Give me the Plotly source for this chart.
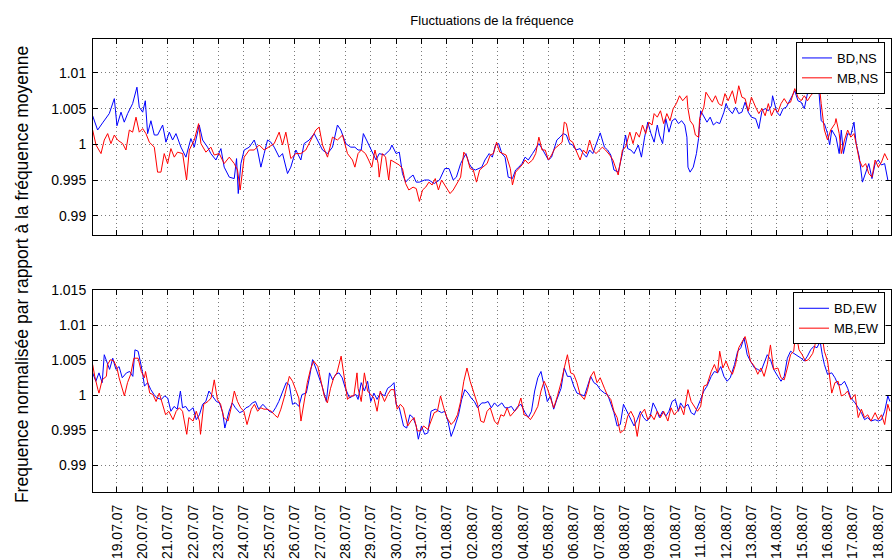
import pandas as pd
import plotly.graph_objects as go

# ---------------- data (hours since 18.07.07 00:00, normalised frequency) ----------------
START = "2007-07-18"

ns_bd_h = [1.0, 5.7, 10.4, 16.7, 21.5, 24.0, 27.8, 30.9, 34.1, 38.8, 42.9, 45.1, 48.3, 50.8, 53.0, 56.1, 59.3, 62.4, 67.2, 70.3,
           73.5, 76.6, 79.8, 84.5, 89.2, 93.9, 97.1, 101.8, 105.0, 109.7, 112.8, 117.6, 122.3, 125.4, 130.2, 134.9, 137.1, 138.7, 141.2, 144.3,
           149.1, 153.8, 156.9, 160.1, 163.2, 166.4, 169.5, 172.7, 177.4, 180.6, 185.3, 188.4, 193.2, 197.9, 201.0, 205.8, 210.5, 215.2, 218.4, 223.1,
           227.8, 232.5, 235.7, 240.4, 245.1,
           249, 252, 255, 257, 260, 263, 266, 269, 272, 277, 282, 284, 288, 291, 294, 297, 300, 304, 307, 310,
           315, 319, 324, 329, 334, 338, 342, 345, 349, 354, 357, 360, 363, 366, 369, 372, 376, 379, 382, 385,
           388, 391, 394, 398, 401, 404, 407, 410, 413, 417, 420, 423, 426, 429, 432, 435, 440, 443, 446, 449,
           452, 455, 458, 462, 465, 468, 471, 474, 477, 481, 485, 488, 491, 494, 498,
           502, 505, 507, 510, 513, 517, 520, 523, 526, 529, 532, 535, 537, 540, 543, 546, 549, 552, 555, 558,
           561, 563, 564, 566, 569, 572, 574, 576, 579, 582, 585, 588, 591, 594, 598, 600, 602, 606, 609, 612,
           615, 618, 621, 624, 628, 631, 634, 637, 640, 643, 644, 648, 651, 654, 657, 660, 663, 665, 668, 671,
           674, 677, 680, 683, 686, 688, 690, 693, 696, 698, 700, 704, 707, 709, 711, 715, 718, 721, 723, 726,
           729, 732, 735, 738, 741, 744, 747, 750, 753]
ns_bd_v = [1.0040, 1.0020, 1.0030, 1.0043, 1.0064, 1.0026, 1.0045, 1.0031, 1.0043, 1.0057, 1.0080, 1.0052, 1.0045, 1.0061, 1.0015, 1.0033, 1.0013, 1.0013, 1.0027, 1.0003,
           1.0017, 1.0006, 1.0015, 0.9996, 0.9982, 1.0008, 0.9996, 1.0027, 1.0006, 0.9996, 0.9987, 0.9978, 0.9994, 0.9968, 0.9954, 0.9952, 0.9980, 0.9931, 0.9973, 0.9992,
           0.9996, 1.0006, 0.9992, 0.9968, 0.9987, 1.0006, 1.0003, 0.9996, 0.9982, 0.9987, 0.9959, 0.9968, 0.9992, 0.9978, 1.0001, 1.0006, 1.0015, 1.0001, 0.9992, 0.9987,
           0.9996, 1.0027, 1.0020, 1.0001, 0.9996,
           0.9996, 0.9992, 0.9992, 1.0015, 1.0006, 0.9996, 0.9987, 0.9978, 0.9987, 0.9985, 0.9992, 0.9999, 0.9987, 0.9989, 0.9959, 0.9947, 0.9952, 0.9957, 0.9947, 0.9947,
           0.9950, 0.9950, 0.9945, 0.9950, 0.9966, 0.9966, 0.9950, 0.9954, 0.9973, 0.9987, 0.9973, 0.9966, 0.9964, 0.9966, 0.9968, 0.9978, 0.9987, 0.9982, 0.9999, 1.0001,
           0.9987, 0.9982, 0.9954, 0.9952, 0.9964, 0.9968, 0.9973, 0.9982, 0.9978, 0.9987, 0.9994, 1.0001, 0.9994, 0.9985, 0.9978, 0.9982, 1.0006, 1.0010, 1.0015, 1.0013,
           1.0001, 0.9999, 0.9992, 0.9994, 0.9987, 0.9982, 0.9992, 0.9987, 0.9999, 1.0016, 0.9996, 0.9992, 0.9985, 0.9964, 0.9961,
           0.9987, 1.0013, 0.9994, 0.9992, 0.9987, 0.9999, 0.9982, 1.0010, 1.0031, 1.0015, 1.0003, 1.0027, 1.0013, 1.0001, 1.0036, 1.0017, 1.0033, 1.0036, 1.0029, 1.0033,
           1.0027, 1.0010, 0.9968, 0.9961, 0.9968, 0.9987, 1.0008, 1.0047, 1.0038, 1.0031, 1.0038, 1.0027, 1.0031, 1.0029, 1.0045, 1.0057, 1.0050, 1.0043, 1.0052, 1.0043,
           1.0045, 1.0059, 1.0045, 1.0038, 1.0036, 1.0022, 1.0047, 1.0050, 1.0047, 1.0054, 1.0068, 1.0045, 1.0040, 1.0050, 1.0052, 1.0061, 1.0071, 1.0075, 1.0061, 1.0059,
           1.0050, 1.0071, 1.0080, 1.0075, 1.0089, 1.0071, 1.0033, 1.0029, 1.0015, 0.9999, 1.0020, 1.0010, 0.9987, 1.0020, 0.9987, 1.0015, 1.0013, 1.0031, 1.0001, 0.9982,
           0.9947, 0.9959, 0.9973, 0.9952, 0.9973, 0.9978, 0.9971, 0.9973, 0.9950]

ns_mb_h = [1.0, 4.2, 8.9, 12.0, 15.2, 18.3, 21.5, 24.6, 29.4, 32.5, 35.7, 38.8, 42.0, 45.1, 48.3, 51.4, 54.6, 59.3, 62.4, 65.6,
           68.7, 71.9, 75.0, 78.2, 81.3, 86.1, 89.8, 92.4, 97.1, 101.2, 103.4, 108.1, 112.8, 116.0, 120.7, 125.4, 130.2, 134.9, 138.0, 140.5,
           144.3, 149.1, 153.8, 158.5, 163.2, 168.0, 172.7, 177.4, 180.6, 183.7, 188.4, 193.2, 197.9, 202.6, 207.3, 212.1, 215.2, 218.4, 223.1, 227.8,
           232.5, 237.3, 242.0, 246.7,
           249, 252, 255, 259, 262, 265, 268, 271, 272, 275, 278, 281, 283, 288, 291, 294, 297, 300, 304, 307,
           310, 313, 316, 319, 322, 325, 328, 331, 335, 339, 342, 345, 349, 352, 355, 358, 361, 364, 367, 370,
           374, 377, 380, 383, 386, 389, 392, 396, 398, 401, 404, 407, 410, 413, 417, 420, 423, 426, 429, 432,
           435, 438, 442, 445, 447, 449, 452, 455, 458, 462, 465, 468, 471, 474, 477, 480, 483, 486, 490, 493,
           496, 498,
           502, 505, 509, 512, 515, 518, 521, 524, 527, 530, 532, 535, 538, 541, 544, 547, 550, 553, 556, 559,
           563, 564, 566, 569, 571, 574, 575, 579, 581, 584, 587, 590, 593, 596, 599, 602, 606, 609, 612, 615,
           618, 621, 624, 628, 631, 634, 637, 640, 643, 646, 649, 652, 655, 658, 661, 665, 668, 671, 674, 677,
           680, 683, 686, 688, 690, 693, 696, 699, 703, 704, 707, 709, 712, 715, 718, 721, 723, 726, 729, 732,
           735, 738, 741, 744, 747, 750, 753]
ns_mb_v = [1.0020, 0.9999, 0.9987, 1.0006, 1.0015, 1.0001, 1.0013, 1.0006, 1.0001, 0.9992, 1.0020, 1.0017, 1.0038, 1.0017, 1.0022, 1.0015, 1.0003, 0.9996, 0.9961, 0.9961,
           0.9987, 0.9973, 0.9994, 0.9982, 0.9989, 0.9987, 0.9950, 0.9992, 1.0006, 1.0029, 1.0001, 0.9989, 0.9996, 0.9985, 0.9987, 0.9973, 0.9982, 0.9973, 0.9964, 0.9936,
           0.9982, 0.9992, 0.9992, 0.9999, 0.9992, 0.9996, 1.0001, 1.0017, 0.9999, 1.0017, 0.9980, 0.9987, 0.9987, 0.9992, 1.0006, 1.0020, 1.0024, 0.9999, 0.9982, 1.0010,
           1.0006, 1.0013, 0.9987, 0.9978,
           0.9968, 0.9987, 0.9992, 0.9987, 0.9978, 0.9968, 0.9992, 0.9973, 0.9954, 0.9987, 0.9982, 0.9950, 0.9978, 0.9973, 0.9971, 0.9966, 0.9945, 0.9936, 0.9940, 0.9938,
           0.9920, 0.9936, 0.9940, 0.9947, 0.9943, 0.9952, 0.9936, 0.9950, 0.9940, 0.9931, 0.9936, 0.9943, 0.9954, 0.9989, 0.9982, 0.9966, 0.9964, 0.9947, 0.9964, 0.9968,
           0.9973, 0.9985, 0.9987, 1.0003, 0.9989, 0.9987, 0.9985, 0.9966, 0.9943, 0.9961, 0.9966, 0.9971, 0.9978, 0.9973, 0.9978, 0.9987, 1.0010, 0.9992, 0.9992, 0.9978,
           0.9985, 0.9994, 0.9999, 1.0003, 1.0031, 1.0029, 1.0006, 1.0003, 0.9992, 0.9978, 0.9992, 0.9987, 1.0006, 0.9992, 0.9987, 0.9992, 0.9996, 0.9992, 0.9985, 0.9978,
           0.9964, 0.9957,
           0.9992, 0.9996, 1.0017, 1.0001, 1.0017, 1.0010, 1.0027, 1.0015, 1.0031, 1.0027, 1.0043, 1.0038, 1.0047, 1.0029, 1.0043, 1.0033, 1.0050, 1.0057, 1.0068, 1.0061,
           1.0068, 1.0050, 1.0033, 1.0027, 1.0013, 1.0010, 1.0036, 1.0052, 1.0073, 1.0066, 1.0059, 1.0068, 1.0057, 1.0054, 1.0071, 1.0061, 1.0075, 1.0057, 1.0082, 1.0066,
           1.0064, 1.0047, 1.0066, 1.0052, 1.0043, 1.0050, 1.0040, 1.0057, 1.0040, 1.0050, 1.0045, 1.0057, 1.0064, 1.0057, 1.0059, 1.0078, 1.0066, 1.0061, 1.0068, 1.0061,
           1.0068, 1.0073, 1.0080, 1.0085, 1.0057, 1.0020, 1.0006, 1.0020, 1.0029, 1.0036, 1.0015, 0.9987, 1.0006, 1.0020, 1.0010, 1.0015, 1.0001, 0.9978, 0.9968, 0.9973,
           0.9959, 0.9954, 0.9978, 0.9968, 0.9975, 0.9987, 0.9978]

ew_bd_h = [1, 4, 7, 10, 12, 15, 17, 20, 23, 26, 29, 33, 36, 39, 41, 44, 48, 50, 53, 56,
           59, 62, 66, 69, 72, 75, 78, 81, 84, 86, 89, 92, 96, 99, 102, 105, 108, 111, 114, 118,
           121, 124, 126, 130, 133, 136, 140, 143, 146, 149, 152, 155, 158, 162, 165, 168, 171, 174, 177, 181,
           184, 187, 190, 193, 196, 199, 203, 206, 209, 212, 215, 218, 222, 225, 228, 231, 234, 237, 240, 244,
           247, 250,
           252, 255, 258, 261, 264, 267, 270, 273, 277, 280, 283, 286, 288, 291, 295, 298, 301, 304, 307, 309,
           312, 315, 318, 321, 325, 328, 331, 334, 337, 340, 343, 347, 350, 353, 356, 359, 362, 365, 369, 372,
           375, 378, 381, 384, 388, 391, 394, 397, 400, 403, 406, 410, 413, 416, 419, 422, 425, 428, 431, 434,
           437, 440, 444, 447, 450, 453, 456, 459, 462, 466, 469, 472, 475, 478, 481, 485, 488, 491, 494, 497,
           500,
           503, 506, 509, 513, 516, 519, 522, 525, 528, 531, 534, 537, 540, 543, 546, 549, 552, 555, 557, 560,
           564, 567, 570, 573, 576, 579, 582, 586, 589, 592, 595, 598, 601, 604, 608, 611, 614, 617, 620, 623,
           627, 630, 633, 636, 639, 642, 645, 649, 652, 655, 658, 661, 664, 667, 671, 674, 677, 680, 683, 686,
           689, 691, 693, 696, 700, 703, 706, 709, 712, 715, 718, 722, 725, 728, 731, 734, 737, 741, 744, 747,
           750, 753, 755]
ew_bd_v = [1.0032, 1.0020, 1.0032, 1.0018, 1.0058, 1.0044, 1.0037, 1.0053, 1.0037, 1.0041, 1.0025, 1.0032, 1.0034, 1.0027, 1.0065, 1.0063, 1.0034, 1.0013, 1.0018, 1.0008,
           1.0001, 0.9996, 0.9994, 0.9999, 0.9996, 0.9977, 0.9984, 0.9980, 1.0006, 0.9982, 0.9984, 0.9977, 0.9982, 0.9965, 0.9972, 0.9987, 0.9991, 1.0006, 0.9999, 0.9991,
           0.9989, 0.9975, 0.9953, 0.9977, 0.9989, 0.9982, 0.9975, 0.9977, 0.9982, 0.9984, 0.9989, 0.9991, 0.9980, 0.9987, 0.9982, 0.9977, 0.9975, 0.9982, 0.9991, 1.0008,
           1.0018, 1.0015, 0.9987, 0.9989, 0.9984, 1.0001, 1.0003, 1.0025, 1.0051, 1.0039, 1.0027, 1.0013, 0.9991, 1.0032, 1.0022, 1.0030, 1.0032, 1.0025, 1.0010, 0.9996,
           0.9999, 1.0001,
           0.9994, 1.0018, 1.0006, 1.0020, 0.9991, 1.0003, 0.9994, 1.0003, 0.9999, 1.0010, 1.0013, 1.0018, 0.9987, 0.9982, 0.9956, 0.9953, 0.9972, 0.9968, 0.9956, 0.9937,
           0.9956, 0.9944, 0.9946, 0.9977, 0.9980, 0.9977, 0.9975, 0.9977, 0.9963, 0.9941, 0.9953, 0.9972, 0.9994, 1.0008, 1.0003, 0.9996, 0.9991, 0.9982, 0.9989, 0.9989,
           0.9991, 0.9982, 0.9989, 0.9984, 0.9989, 0.9982, 0.9982, 0.9984, 0.9977, 0.9984, 0.9987, 0.9975, 0.9968, 0.9977, 1.0006, 1.0025, 1.0034, 1.0013, 0.9991, 0.9999,
           0.9980, 0.9994, 1.0010, 1.0039, 1.0027, 1.0027, 1.0013, 1.0003, 1.0001, 0.9999, 1.0013, 1.0027, 1.0018, 1.0015, 1.0008, 1.0003, 1.0001, 0.9987, 0.9975, 0.9956,
           0.9958,
           0.9987, 0.9977, 0.9968, 0.9956, 0.9965, 0.9977, 0.9968, 0.9963, 0.9968, 0.9989, 0.9980, 0.9968, 0.9977, 0.9970, 0.9977, 0.9991, 0.9994, 0.9977, 0.9989, 0.9982,
           0.9987, 0.9975, 0.9972, 0.9982, 0.9994, 1.0006, 1.0013, 1.0027, 1.0034, 1.0032, 1.0041, 1.0027, 1.0020, 1.0025, 1.0044, 1.0063, 1.0068, 1.0082, 1.0058, 1.0049,
           1.0039, 1.0037, 1.0034, 1.0046, 1.0058, 1.0051, 1.0037, 1.0027, 1.0020, 1.0027, 1.0053, 1.0063, 1.0060, 1.0058, 1.0053, 1.0049, 1.0056, 1.0065, 1.0070, 1.0068,
           1.0077, 1.0058, 1.0044, 1.0030, 1.0032, 1.0025, 1.0015, 1.0015, 1.0020, 1.0010, 0.9996, 0.9989, 0.9982, 0.9975, 0.9965, 0.9968, 0.9963, 0.9965, 0.9963, 0.9965,
           0.9977, 0.9999, 0.9991]

ew_mb_h = [1, 3, 6, 7, 10, 14, 15, 18, 21, 24, 26, 31, 34, 37, 40, 44, 47, 50, 51, 55,
           58, 61, 64, 67, 70, 73, 77, 80, 83, 86, 90, 92, 96, 99, 102, 103, 106, 110, 113, 116,
           119, 122, 125, 129, 132, 135, 138, 141, 144, 147, 151, 154, 157, 160, 163, 166, 170, 173, 176, 179,
           182, 187, 190, 193, 196, 198, 201, 204, 207, 210, 214, 217, 220, 223, 226, 229, 232, 236, 239, 242,
           245, 248, 251,
           252, 255, 258, 261, 264, 267, 270, 273, 277, 280, 283, 286, 289, 292, 295, 299, 302, 305, 308, 311,
           314, 318, 321, 324, 327, 330, 333, 336, 340, 343, 346, 349, 352, 355, 358, 362, 365, 368, 371, 374,
           377, 381, 384, 387, 390, 393, 396, 400, 403, 406, 409, 412, 415, 418, 422, 425, 428, 431, 434, 437,
           440, 444, 447, 450, 453, 456, 459, 462, 466, 469, 472, 475, 478, 481, 485, 488, 491, 494, 497, 500,
           504, 507, 510, 513, 516, 519, 523, 526, 529, 532, 535, 538, 541, 545, 548, 551, 554, 557, 560, 564,
           567, 570, 573, 576, 579, 582, 586, 589, 592, 594, 597, 600, 603, 606, 609, 612, 615, 618, 620, 623,
           627, 630, 633, 636, 639, 642, 645, 649, 652, 655, 658, 661, 664, 666, 669, 672, 675, 678, 682, 685,
           688, 691, 693, 696, 700, 703, 706, 709, 712, 715, 718, 722, 725, 728, 731, 734, 737, 741, 744, 747,
           750, 753, 755]
ew_mb_v = [1.0044, 1.0027, 1.0008, 1.0003, 1.0022, 1.0027, 1.0044, 1.0051, 1.0049, 1.0039, 1.0025, 0.9999, 1.0018, 1.0030, 1.0053, 1.0053, 1.0034, 1.0025, 1.0034, 1.0003,
           1.0001, 0.9991, 1.0003, 0.9989, 0.9972, 0.9977, 0.9965, 0.9977, 0.9982, 0.9977, 0.9944, 0.9968, 0.9963, 0.9977, 0.9963, 0.9944, 0.9987, 0.9991, 0.9996, 1.0022,
           0.9994, 0.9987, 0.9968, 0.9963, 0.9982, 1.0006, 0.9991, 0.9982, 0.9977, 0.9958, 0.9980, 0.9987, 0.9977, 0.9982, 0.9980, 0.9980, 0.9977, 0.9972, 0.9968, 0.9980,
           0.9996, 1.0027, 1.0020, 1.0008, 0.9996, 0.9963, 0.9994, 1.0018, 1.0037, 1.0049, 1.0041, 1.0020, 0.9999, 0.9989, 1.0010, 1.0025, 1.0032, 1.0056, 1.0027, 0.9994,
           0.9999, 0.9999, 1.0032,
           1.0010, 0.9991, 1.0032, 1.0006, 1.0001, 0.9996, 0.9977, 1.0006, 0.9991, 1.0001, 1.0008, 1.0008, 0.9980, 0.9987, 0.9982, 0.9956, 0.9963, 0.9968, 0.9949, 0.9949,
           0.9956, 0.9951, 0.9963, 0.9975, 0.9977, 0.9999, 0.9982, 0.9968, 0.9958, 0.9963, 0.9972, 0.9991, 1.0020, 1.0039, 1.0020, 1.0001, 0.9987, 0.9963, 0.9961, 0.9977,
           0.9982, 0.9963, 0.9958, 0.9972, 0.9970, 0.9982, 0.9970, 0.9977, 0.9982, 0.9996, 0.9972, 0.9970, 0.9965, 0.9972, 0.9984, 1.0006, 1.0020, 1.0010, 0.9996, 0.9982,
           0.9996, 1.0018, 1.0039, 1.0058, 1.0032, 1.0030, 1.0018, 1.0001, 0.9994, 1.0008, 1.0027, 1.0034, 1.0018, 1.0025, 1.0010, 0.9999, 0.9994, 0.9977, 0.9968, 0.9946,
           0.9951, 0.9970, 0.9977, 0.9968, 0.9941, 0.9972, 0.9980, 0.9965, 0.9972, 0.9965, 0.9977, 0.9968, 0.9977, 0.9963, 0.9982, 0.9972, 0.9977, 0.9984, 0.9972, 1.0008,
           0.9991, 0.9984, 0.9977, 0.9984, 1.0013, 1.0015, 1.0034, 1.0044, 1.0032, 1.0063, 1.0039, 1.0049, 1.0037, 1.0030, 1.0044, 1.0068, 1.0077, 1.0084, 1.0072, 1.0049,
           1.0041, 1.0030, 1.0039, 1.0027, 1.0044, 1.0072, 1.0037, 1.0039, 1.0025, 1.0022, 1.0039, 1.0058, 1.0063, 1.0091, 1.0065, 1.0058, 1.0049, 1.0051, 1.0060, 1.0077,
           1.0087, 1.0084, 1.0063, 1.0049, 1.0003, 1.0018, 1.0020, 0.9999, 1.0001, 1.0006, 0.9994, 1.0001, 0.9968, 0.9980, 0.9968, 0.9972, 0.9963, 0.9975, 0.9965, 0.9972,
           0.9958, 0.9987, 0.9977]

tick_days = pd.date_range("2007-07-19", "2007-08-18", freq="D")
x_range = ["2007-07-18 01:20", "2007-08-18 12:00"]
ns_yticks = [0.99, 0.995, 1.0, 1.005, 1.01]
ns_yticktext = ["0.99", "0.995", "1", "1.005", "1.01"]
ew_yticks = [0.99, 0.995, 1.0, 1.005, 1.01, 1.015]
ew_yticktext = ["0.99", "0.995", "1", "1.005", "1.01", "1.015"]
ns_yrange = [0.9873, 1.01475]
ew_yrange = [0.98614, 1.0151]


def to_time(hours):
    return pd.Timestamp(START) + pd.to_timedelta(hours, unit="h")


FONT = "Liberation Sans, Arial, sans-serif"
BLUE = "#0000ff"
RED = "#ff0000"
GRID = "#7a7a7a"

fig = go.Figure()
fig.add_trace(go.Scatter(x=to_time(ns_bd_h), y=ns_bd_v, mode="lines", name="BD,NS",
                         line=dict(color=BLUE, width=1), xaxis="x", yaxis="y", legend="legend"))
fig.add_trace(go.Scatter(x=to_time(ns_mb_h), y=ns_mb_v, mode="lines", name="MB,NS",
                         line=dict(color=RED, width=1), xaxis="x", yaxis="y", legend="legend"))
fig.add_trace(go.Scatter(x=to_time(ew_bd_h), y=ew_bd_v, mode="lines", name="BD,EW",
                         line=dict(color=BLUE, width=1), xaxis="x2", yaxis="y2", legend="legend2"))
fig.add_trace(go.Scatter(x=to_time(ew_mb_h), y=ew_mb_v, mode="lines", name="MB,EW",
                         line=dict(color=RED, width=1), xaxis="x2", yaxis="y2", legend="legend2"))

common_x = dict(type="date", range=x_range, tickmode="array", tickvals=list(tick_days),
                ticktext=[d.strftime("%d.%m.%y") for d in tick_days],
                showline=True, linecolor="black", linewidth=1, mirror="ticks",
                ticks="inside", ticklen=5, tickcolor="black", tickwidth=1,
                showgrid=True, gridcolor=GRID, griddash="1px,3px", gridwidth=1,
                zeroline=False, tickfont=dict(family=FONT, size=14, color="black"))
common_y = dict(showline=True, linecolor="black", linewidth=1, mirror="ticks",
                ticks="inside", ticklen=5, tickcolor="black", tickwidth=1,
                showgrid=True, gridcolor=GRID, griddash="1px,3px", gridwidth=1,
                zeroline=False, tickfont=dict(family=FONT, size=14, color="black"),
                ticklabelstandoff=3)

top_dom = [0.5674, 1.0]
bot_dom = [0.0, 0.4464]

fig.update_layout(
    width=893, height=560,
    margin=dict(l=93, r=1, t=39, b=64),
    paper_bgcolor="white", plot_bgcolor="white",
    font=dict(family=FONT, size=14, color="black"),
    showlegend=True,
    title=dict(text="Fluctuations de la fréquence", x=0.5, xref="paper", xanchor="center",
               y=1 - 20 / 560, yref="container", yanchor="middle",
               font=dict(family=FONT, size=13, color="black")),
    xaxis=dict(common_x, domain=[0, 1], anchor="y", showticklabels=False),
    yaxis=dict(common_y, domain=top_dom, anchor="x", range=ns_yrange,
               tickmode="array", tickvals=ns_yticks, ticktext=ns_yticktext),
    xaxis2=dict(common_x, domain=[0, 1], anchor="y2", tickangle=-90, ticklabelstandoff=6),
    yaxis2=dict(common_y, domain=bot_dom, anchor="x2", range=ew_yrange,
                tickmode="array", tickvals=ew_yticks, ticktext=ew_yticktext),
    legend=dict(x=0.9925, y=0.9934, xanchor="right", yanchor="top", xref="paper", yref="paper",
                bgcolor="white", bordercolor="black", borderwidth=1,
                font=dict(family=FONT, size=13, color="black"), itemwidth=30,
                tracegroupgap=0),
    legend2=dict(x=0.9925, y=0.4408, xanchor="right", yanchor="top", xref="paper", yref="paper",
                 bgcolor="white", bordercolor="black", borderwidth=1,
                 font=dict(family=FONT, size=13, color="black"), itemwidth=30,
                 tracegroupgap=0),
    annotations=[dict(text="Frequence normalisée par rapport à la fréquence moyenne",
                      textangle=-90, x=-0.0889, y=0.479, xref="paper", yref="paper",
                      xanchor="center", yanchor="middle", showarrow=False,
                      font=dict(family=FONT, size=17.5, color="black"))],
)

fig.write_html("out.html", config={"displayModeBar": False},
               post_script="document.body.style.margin='0px';")
